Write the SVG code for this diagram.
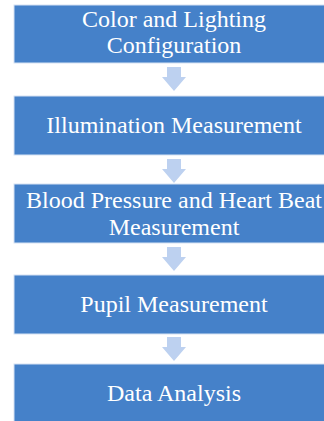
<svg xmlns="http://www.w3.org/2000/svg" width="324" height="421" viewBox="0 0 324 421">
<style>
.box{fill:#4581C9;stroke:#D6E2F3;stroke-width:1}
.t{font-family:"Liberation Serif","Times New Roman",serif;font-size:24px;fill:#FFFFFF;text-anchor:middle}
.arr{fill:#BDD1F0}
</style>
<defs>
<path id="arrow" d="M167,0 H181 V10 H186 L174,24 L162,10 H167 Z"/>
</defs>
<rect width="324" height="421" fill="#FFFFFF"/>
<g id="connectors">
<use href="#arrow" class="arr" transform="translate(0,67)"/>
<use href="#arrow" class="arr" transform="translate(0,159)"/>
<use href="#arrow" class="arr" transform="translate(0,247)"/>
<use href="#arrow" class="arr" transform="translate(0,337)"/>
</g>
<g id="node1">
<rect class="box" x="14" y="5" width="320" height="58"/>
<text class="t" x="174" y="27">Color and Lighting</text>
<text class="t" x="174" y="53">Configuration</text>
</g>
<g id="node2">
<rect class="box" x="14" y="96" width="320" height="59"/>
<text class="t" x="174" y="133">Illumination Measurement</text>
</g>
<g id="node3">
<rect class="box" x="14" y="184" width="320" height="59"/>
<text class="t" x="174" y="208">Blood Pressure and Heart Beat</text>
<text class="t" x="174" y="235">Measurement</text>
</g>
<g id="node4">
<rect class="box" x="14" y="275" width="320" height="59"/>
<text class="t" x="174" y="312">Pupil Measurement</text>
</g>
<g id="node5">
<rect class="box" x="14" y="364" width="320" height="60"/>
<text class="t" x="174" y="401">Data Analysis</text>
</g>
</svg>
